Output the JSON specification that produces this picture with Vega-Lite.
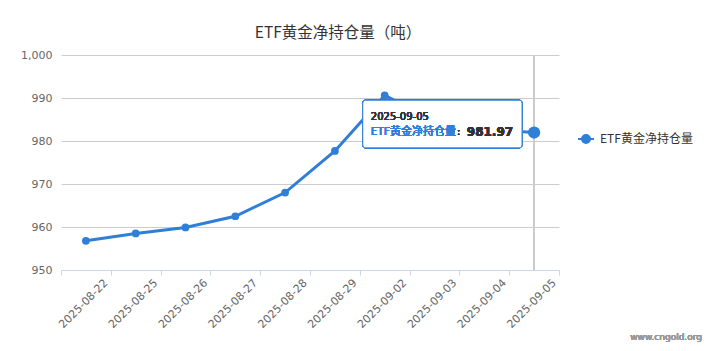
{
  "$schema": "https://vega.github.io/schema/vega-lite/v6.json",
  "width": 498,
  "height": 215,
  "autosize": "none",
  "padding": {"left": 61, "top": 55, "right": 158, "bottom": 81},
  "background": "white",
  "title": {"text": "ETF黄金净持仓量（吨）", "fontSize": 15.5, "font": "Noto Sans CJK SC", "fontWeight": "normal", "color": "#333333", "offset": 8, "dx": 28, "anchor": "middle"},
  "config": {"view": {"stroke": null}},
  "data": {"values": [
    {"date": "2025-08-22", "value": 956.8, "series": "ETF黄金净持仓量"},
    {"date": "2025-08-25", "value": 958.5, "series": "ETF黄金净持仓量"},
    {"date": "2025-08-26", "value": 959.9, "series": "ETF黄金净持仓量"},
    {"date": "2025-08-27", "value": 962.5, "series": "ETF黄金净持仓量"},
    {"date": "2025-08-28", "value": 968.0, "series": "ETF黄金净持仓量"},
    {"date": "2025-08-29", "value": 977.7, "series": "ETF黄金净持仓量"},
    {"date": "2025-09-02", "value": 990.6, "series": "ETF黄金净持仓量"},
    {"date": "2025-09-03", "value": 984.8, "series": "ETF黄金净持仓量"},
    {"date": "2025-09-04", "value": 982.8, "series": "ETF黄金净持仓量"},
    {"date": "2025-09-05", "value": 981.97, "series": "ETF黄金净持仓量"}
  ]},
  "layer": [
    {
      "mark": {"type": "line", "strokeWidth": 3, "interpolate": "linear"},
      "encoding": {
        "x": {"field": "date", "type": "ordinal", "sort": null, "bandPosition": 0.5,
          "scale": {"type": "band", "paddingInner": 0, "paddingOuter": 0, "domain": ["2025-08-22", "2025-08-25", "2025-08-26", "2025-08-27", "2025-08-28", "2025-08-29", "2025-09-02", "2025-09-03", "2025-09-04", "2025-09-05"]},
          "axis": {"title": null, "labelAngle": -45, "labelAlign": "right", "labelBaseline": "middle", "labelOffset": 20, "labelPadding": 6,
            "tickBand": "extent", "tickSize": 5, "tickColor": "#ccd6eb", "domainColor": "#ccd6eb", "labelColor": "#666666", "labelFont": "DejaVu Sans", "labelFontSize": 11, "grid": false}},
        "y": {"field": "value", "type": "quantitative",
          "scale": {"domain": [950, 1000], "nice": false, "zero": false},
          "axis": {"title": null, "values": [950, 960, 970, 980, 990, 1000], "format": ",.0f", "domain": false, "ticks": false, "labelPadding": 9, "gridColor": "#cccccc", "labelColor": "#666666", "labelFont": "DejaVu Sans", "labelFontSize": 11}},
        "color": {"field": "series", "type": "nominal", "scale": {"range": ["#2f7ed8"]},
          "legend": {"title": null, "orient": "none", "legendX": 516, "legendY": 75, "symbolType": "M -0.5,0 A 0.5,0.5 0 1,0 0.5,0 A 0.5,0.5 0 1,0 -0.5,0 Z M -1,0 L 1,0", "symbolSize": 256, "symbolStrokeWidth": 2, "symbolFillColor": "#2f7ed8", "symbolStrokeColor": "#2f7ed8", "labelFont": "Noto Sans CJK SC", "labelFontSize": 12, "labelColor": "#333333", "labelOffset": 5}}
      }
    },
    {
      "mark": {"type": "rule", "color": "#cccccc", "strokeWidth": 1},
      "encoding": {
        "x": {"datum": "2025-09-05", "type": "ordinal", "bandPosition": 0.5},
        "y": {"datum": 1000, "type": "quantitative"},
        "y2": {"datum": 950}
      }
    },
    {
      "mark": {"type": "point", "filled": true, "size": 60, "opacity": 1},
      "encoding": {
        "x": {"field": "date", "type": "ordinal", "sort": null, "bandPosition": 0.5},
        "y": {"field": "value", "type": "quantitative"},
        "color": {"field": "series", "type": "nominal"}
      }
    },
    {
      "mark": {"type": "rect", "fill": "rgba(255,255,255,0.75)", "stroke": "#2f7ed8", "strokeWidth": 1, "cornerRadius": 3, "xOffset": -22, "x2Offset": -12},
      "encoding": {
        "x": {"datum": "2025-09-02", "type": "ordinal"},
        "x2": {"datum": "2025-09-05"},
        "y": {"datum": 989.5, "type": "quantitative"},
        "y2": {"datum": 978.4}
      }
    },
    {
      "transform": [{"filter": "datum.date == '2025-09-05'"}],
      "mark": {"type": "point", "filled": true, "size": 150, "opacity": 1},
      "encoding": {
        "x": {"field": "date", "type": "ordinal", "sort": null, "bandPosition": 0.5},
        "y": {"field": "value", "type": "quantitative"},
        "color": {"field": "series", "type": "nominal"}
      }
    },
    {
      "mark": {"type": "text", "align": "left", "baseline": "middle", "font": "DejaVu Sans", "fontSize": 10, "color": "#333333", "dx": 11, "dy": 19},
      "encoding": {
        "x": {"datum": "2025-09-02", "type": "ordinal", "bandPosition": 0},
        "y": {"datum": 990, "type": "quantitative"},
        "text": {"value": "2025-09-05"}
      }
    },
    {
      "mark": {"type": "text", "align": "left", "baseline": "middle", "font": "Noto Sans CJK SC", "fontSize": 11, "color": "#2f7ed8", "dx": 11, "dy": 34},
      "encoding": {
        "x": {"datum": "2025-09-02", "type": "ordinal", "bandPosition": 0},
        "y": {"datum": 990, "type": "quantitative"},
        "text": {"value": "ETF黄金净持仓量"}
      }
    },
    {
      "mark": {"type": "text", "align": "left", "baseline": "middle", "font": "DejaVu Sans", "fontSize": 11, "color": "#333333", "dx": 97, "dy": 34},
      "encoding": {
        "x": {"datum": "2025-09-02", "type": "ordinal", "bandPosition": 0},
        "y": {"datum": 990, "type": "quantitative"},
        "text": {"value": ":"}
      }
    },
    {
      "mark": {"type": "text", "align": "left", "baseline": "middle", "font": "DejaVu Sans", "fontSize": 12, "fontWeight": "bold", "color": "#333333", "dx": 107, "dy": 34},
      "encoding": {
        "x": {"datum": "2025-09-02", "type": "ordinal", "bandPosition": 0},
        "y": {"datum": 990, "type": "quantitative"},
        "text": {"value": "981.97"}
      }
    },
    {
      "mark": {"type": "text", "align": "right", "baseline": "middle", "font": "DejaVu Sans", "fontSize": 9, "color": "#999999", "dx": 143, "dy": 67},
      "encoding": {
        "x": {"datum": "2025-09-05", "type": "ordinal", "bandPosition": 1},
        "y": {"datum": 950, "type": "quantitative"},
        "text": {"value": "www.cngold.org"}
      }
    }
  ]
}
